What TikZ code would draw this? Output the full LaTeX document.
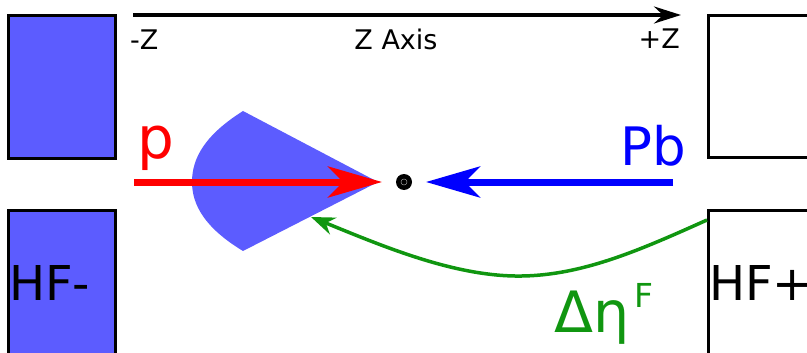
\documentclass[tikz,border=0pt]{standalone}
\usepackage{fontspec}
\setmainfont{DejaVu Sans}
\usetikzlibrary{arrows.meta}
\definecolor{hfblue}{RGB}{92,92,255}
\definecolor{dgreen}{RGB}{16,150,16}
\tikzset{
  det/.style={draw=black, line width=3pt},
  beam/.style={line width=7pt, -{Stealth[length=54pt, width=31pt, inset=15pt]}},
  lbl/.style={inner sep=0pt},
}
\newcommand{\fsz}[1]{\fontsize{#1}{#1}\selectfont}
\begin{document}
\begin{tikzpicture}[x=1pt,y=-1pt]
\useasboundingbox (0,0) rectangle (807,353);
\begin{scope}
\clip (0,0) rectangle (807,353);
% detectors
\draw[det, fill=hfblue] (8,16) rectangle (115,158);
\draw[det, fill=hfblue] (8,210) rectangle (115,362);
\draw[det, fill=white] (708,16) rectangle (820,157);
\draw[det, fill=white] (708,210) rectangle (820,362);
\end{scope}
\node[lbl, anchor=base west] (hfm) at (9,300) {\fsz{48}HF-};
\node[lbl, anchor=base west] (hfp) at (709,300) {\fsz{48}HF+};
% axis
\coordinate (za) at (133,15);
\coordinate (zb) at (681,15);
\draw[line width=3.3pt, -{Stealth[length=27pt, width=17pt, inset=9pt]}] (za) -- (zb);
\node[lbl, anchor=base west] (mz) at (130,50) {\fsz{27}-Z};
\node[lbl, anchor=base] (zax) at (396,50) {\fsz{27}Z Axis};
\node[lbl, anchor=base east] (pz) at (680,49) {\fsz{27}+Z};
% fan
\fill[hfblue] (243,111) -- (378,182) -- (243,251)
  .. controls (205,228) and (192,205) .. (192,182)
  .. controls (192,158) and (205,135) .. (243,111) -- cycle;
% beams
\coordinate (ps) at (134,182);
\coordinate (pe) at (382,182);
\coordinate (bs) at (673,182);
\coordinate (be) at (426,182);
\draw[beam, red] (ps) -- (pe);
\draw[beam, blue] (bs) -- (be);
\node[lbl, anchor=base west, text=red] (p) at (137,158) {\fsz{58}p};
\node[lbl, anchor=base east, text=blue] (pb) at (686,165) {\fsz{53}Pb};
% vertex
\node[circle, fill=black, minimum size=16pt, inner sep=0pt] (vtx) at (404,182) {};
\draw[white!60!black, line width=0.5pt] (vtx) circle (3pt);
% green arrow
\coordinate (gs) at (707,220);
\coordinate (gm) at (515,276);
\coordinate (ge) at (311,217);
\draw[dgreen, line width=3.5pt, -{Stealth[length=24pt, width=18pt, inset=8pt]}]
  (gs) .. controls (640,250) and (580,277) .. (gm)
       .. controls (450,275) and (380,245) .. (ge);
\node[lbl, anchor=base west, text=dgreen] (deta) at (554,332)
  {\fsz{57}Δη\hspace{5pt}\raisebox{25pt}{\fsz{33}F}};
\end{tikzpicture}
\end{document}
